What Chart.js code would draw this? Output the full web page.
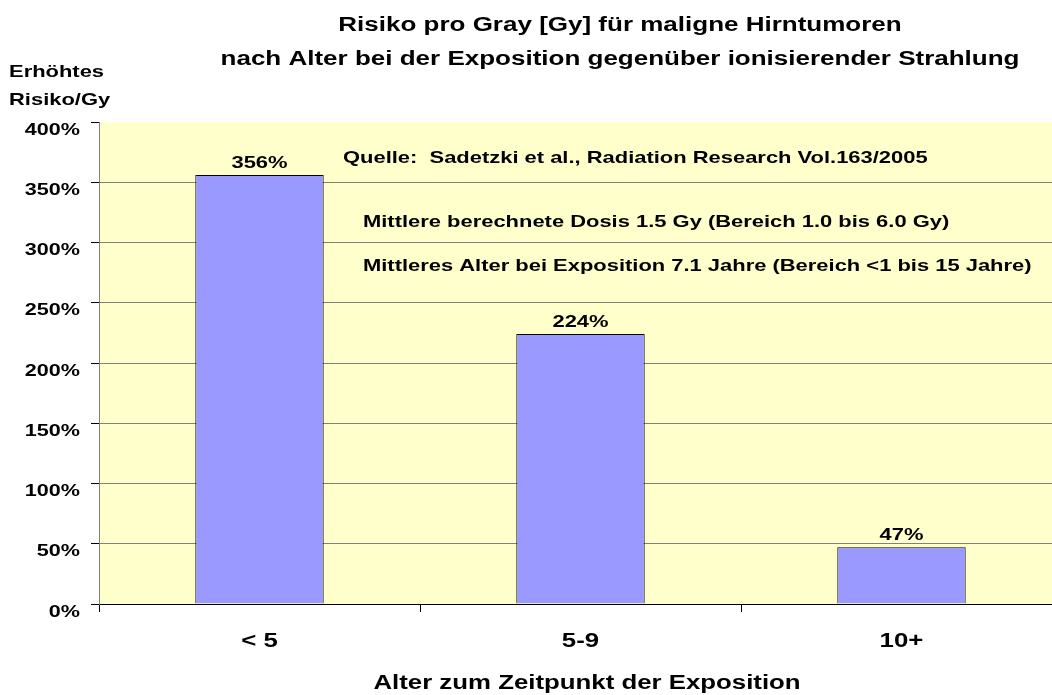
<!DOCTYPE html>
<html>
<head>
<meta charset="utf-8">
<script src="https://cdn.jsdelivr.net/npm/chart.js@4.4.1/dist/chart.umd.min.js"></script>
<style>
  html, body { margin: 0; padding: 0; background: #fff; overflow: hidden; }
  #wrap { width: 1070px; height: 695px; }
</style>
</head>
<body>
<div id="wrap"><canvas id="chartCanva" width="1070" height="695"></canvas></div>
<script>
// data
const ageGroups = ["< 5", "5-9", "10+"];
const riskPerGy = [356, 224, 47];
const yTicks = [0, 50, 100, 150, 200, 250, 300, 350, 400];

const titleLines = [
    "Risiko pro Gray [Gy] für maligne Hirntumoren",
    "nach Alter bei der Exposition gegenüber ionisierender Strahlung",
];
const yTitleLines = ["Erhöhtes", "Risiko/Gy"];
const xTitle = "Alter zum Zeitpunkt der Exposition";
const notes = [
    "Quelle:  Sadetzki et al., Radiation Research Vol.163/2005",
    "Mittlere berechnete Dosis 1.5 Gy (Bereich 1.0 bis 6.0 Gy)",
    "Mittleres Alter bei Exposition 7.1 Jahre (Bereich <1 bis 15 Jahre)",
];

const FONT = "'Liberation Sans', Arial, sans-serif";
const SX = 1.29; // the original text is drawn wider than normal Arial

// draws text stretched horizontally
function wideText(ctx, text, x, y, align, sx) {
    ctx.save();
    ctx.translate(x, y);
    ctx.scale(sx || SX, 1);
    ctx.textAlign = align;
    ctx.fillText(text, 0, 0);
    ctx.restore();
}

// yellow plot background + all the texts
const decor = {
    id: "decor",
    beforeDraw(chart) {
        const { ctx, chartArea: a } = chart;
        ctx.save();
        ctx.fillStyle = "#FFFFCC";
        ctx.fillRect(a.left, a.top, a.right - a.left, a.bottom - a.top);
        ctx.restore();
    },
    afterDraw(chart) {
        const { ctx, scales } = chart;
        ctx.save();
        ctx.fillStyle = "#000";
        ctx.textBaseline = "middle";

        // title
        ctx.font = "bold 20px " + FONT;
        wideText(ctx, titleLines[0], 620, 25, "center", 1.3);
        wideText(ctx, titleLines[1], 620, 59, "center", 1.3);

        // y axis title
        ctx.font = "bold 17px " + FONT;
        wideText(ctx, yTitleLines[0], 9, 72, "left");
        wideText(ctx, yTitleLines[1], 9, 100, "left");

        // y tick labels
        yTicks.forEach((v) => {
            wideText(ctx, v + "%", 80, scales.y.getPixelForValue(v) + 8, "right", 1.27);
        });

        // x tick labels + x title
        ctx.font = "bold 20px " + FONT;
        ageGroups.forEach((lab, i) => {
            wideText(ctx, lab, scales.x.getPixelForValue(i), 641, "center");
        });
        wideText(ctx, xTitle, 587, 683, "center");

        // notes inside the plot
        ctx.font = "bold 17px " + FONT;
        wideText(ctx, notes[0], 343, 158, "left");
        wideText(ctx, notes[1], 363, 222, "left");
        wideText(ctx, notes[2], 363, 266, "left");

        // value labels above bars
        ctx.textBaseline = "alphabetic";
        const meta = chart.getDatasetMeta(0);
        meta.data.forEach((bar, i) => {
            wideText(ctx, riskPerGy[i] + "%", bar.x, bar.y - 7, "center");
        });
        ctx.restore();
    },
};

new Chart(document.getElementById("chartCanva"), {
    type: "bar",
    data: {
        labels: ageGroups,
        datasets: [
            {
                data: riskPerGy,
                backgroundColor: "#9999FF",
                borderColor: "#000",
                borderWidth: 1,
                categoryPercentage: 1,
                barPercentage: 0.4,
            },
        ],
    },
    options: {
        responsive: false,
        animation: false,
        layout: { padding: { top: 122, left: 0, right: 8, bottom: 0 } },
        plugins: {
            legend: { display: false },
            tooltip: { enabled: false },
        },
        scales: {
            x: {
                afterFit(scale) { scale.height = 91; },
                grid: {
                    drawOnChartArea: false,
                    tickLength: 8,
                    tickColor: "#000",
                },
                border: { color: "#000", width: 1 },
                ticks: { display: false },
            },
            y: {
                min: 0,
                max: 400,
                afterFit(scale) { scale.width = 99; },
                afterBuildTicks(scale) {
                    scale.ticks = yTicks.map((v) => ({ value: v }));
                },
                grid: {
                    color: (c) => (c.tick && c.tick.value === 400 ? "rgba(0,0,0,0)" : "#808080"),
                    tickLength: 8,
                    tickColor: "#000",
                },
                border: { color: "#808080", width: 1 },
                ticks: { display: false },
            },
        },
    },
    plugins: [decor],
});
</script>
</body>
</html>
